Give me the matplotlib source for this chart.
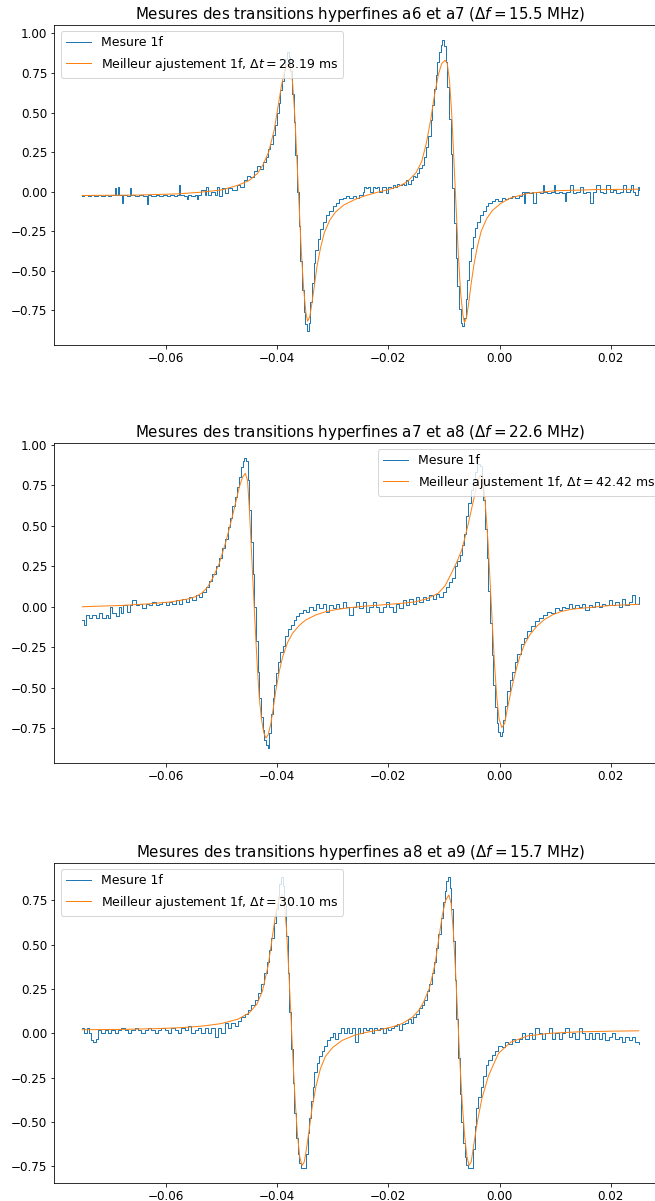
import numpy as np
import matplotlib.pyplot as plt
import matplotlib
matplotlib.rcParams.update({'font.size': 12})

# ---- a6 / a7 ----
mes1_t = [
    -0.0751, -0.0746, -0.0740, -0.0735, -0.0728, -0.0722, -0.0716, -0.0710, -0.0704, -0.0698,
    -0.0692, -0.0690, -0.0686, -0.0684, -0.0678, -0.0676, -0.0670, -0.0664, -0.0662, -0.0655,
    -0.0648, -0.0640, -0.0634, -0.0632, -0.0626, -0.0618, -0.0612, -0.0605, -0.0598, -0.0592,
    -0.0586, -0.0580, -0.0576, -0.0574, -0.0568, -0.0562, -0.0560, -0.0554, -0.0548, -0.0544,
    -0.0542, -0.0536, -0.0530, -0.0528, -0.0524, -0.0518, -0.0512, -0.0508, -0.0504, -0.0498,
    -0.0494, -0.0488, -0.0480, -0.0472, -0.0466, -0.0460, -0.0454, -0.0448, -0.0442, -0.0436,
    -0.0430, -0.0425, -0.0420, -0.0416, -0.0412, -0.0408, -0.0404, -0.0400, -0.0397, -0.0394,
    -0.0391, -0.0388, -0.0385, -0.0382, -0.0379, -0.0376, -0.0373, -0.0370, -0.0367, -0.0364,
    -0.0361, -0.0358, -0.0355, -0.0352, -0.0349, -0.0346, -0.0343, -0.0340, -0.0337, -0.0334,
    -0.0331, -0.0327, -0.0323, -0.0318, -0.0312, -0.0306, -0.0300, -0.0294, -0.0288, -0.0282,
    -0.0276, -0.0270, -0.0264, -0.0258, -0.0252, -0.0246, -0.0244, -0.0240, -0.0236, -0.0232,
    -0.0228, -0.0224, -0.0220, -0.0216, -0.0212, -0.0208, -0.0204, -0.0200, -0.0196, -0.0192,
    -0.0188, -0.0184, -0.0180, -0.0176, -0.0172, -0.0168, -0.0164, -0.0160, -0.0156, -0.0152,
    -0.0148, -0.0144, -0.0140, -0.0136, -0.0132, -0.0128, -0.0124, -0.0121, -0.0118, -0.0115,
    -0.0112, -0.0109, -0.0106, -0.0103, -0.0100, -0.0097, -0.0094, -0.0091, -0.0088, -0.0085,
    -0.0082, -0.0079, -0.0076, -0.0073, -0.0070, -0.0067, -0.0064, -0.0061, -0.0058, -0.0055,
    -0.0052, -0.0048, -0.0044, -0.0040, -0.0035, -0.0030, -0.0025, -0.0020, -0.0014, -0.0008,
    -0.0002, 0.0004, 0.0010, 0.0016, 0.0022, 0.0028, 0.0034, 0.0040, 0.0044, 0.0046,
    0.0052, 0.0058, 0.0060, 0.0066, 0.0072, 0.0078, 0.0080, 0.0086, 0.0092, 0.0098,
    0.0100, 0.0106, 0.0112, 0.0118, 0.0120, 0.0126, 0.0132, 0.0138, 0.0144, 0.0150,
    0.0156, 0.0162, 0.0168, 0.0174, 0.0180, 0.0186, 0.0192, 0.0198, 0.0204, 0.0210,
    0.0216, 0.0222, 0.0228, 0.0234, 0.0236, 0.0240, 0.0244, 0.0248, 0.0250,
]
mes1_y = [
    -0.030, -0.020, -0.030, -0.020, -0.030, -0.020, -0.030, -0.020, -0.030, -0.020,
    0.020, -0.020, 0.030, -0.020, -0.070, -0.020, -0.030, 0.020, -0.020, -0.030,
    -0.020, -0.030, -0.080, -0.020, -0.030, -0.020, -0.030, -0.020, -0.030, -0.020,
    -0.030, -0.020, 0.040, -0.020, -0.030, -0.050, -0.020, -0.030, -0.020, -0.050,
    -0.020, 0.010, -0.020, 0.030, -0.020, 0.000, -0.020, 0.030, -0.030, 0.020,
    -0.010, 0.020, 0.010, 0.040, 0.030, 0.070, 0.100, 0.090, 0.130, 0.160,
    0.140, 0.190, 0.220, 0.270, 0.300, 0.360, 0.420, 0.500, 0.560, 0.640,
    0.700, 0.770, 0.840, 0.880, 0.850, 0.760, 0.620, 0.440, 0.230, 0.000,
    -0.220, -0.440, -0.620, -0.760, -0.840, -0.880, -0.830, -0.700, -0.580, -0.450,
    -0.370, -0.300, -0.240, -0.190, -0.150, -0.120, -0.090, -0.070, -0.050, -0.040,
    -0.030, -0.040, -0.030, -0.040, -0.020, 0.000, 0.030, 0.020, 0.030, 0.000,
    0.030, 0.020, 0.030, 0.000, 0.030, 0.030, -0.010, 0.030, 0.020, 0.040,
    0.030, 0.050, 0.040, 0.050, 0.040, 0.070, 0.050, 0.070, 0.100, 0.090,
    0.120, 0.150, 0.170, 0.220, 0.280, 0.350, 0.450, 0.550, 0.650, 0.740,
    0.820, 0.880, 0.930, 0.960, 0.920, 0.820, 0.660, 0.460, 0.240, 0.020,
    -0.200, -0.420, -0.600, -0.740, -0.830, -0.850, -0.800, -0.680, -0.560, -0.440,
    -0.360, -0.290, -0.230, -0.190, -0.150, -0.120, -0.090, -0.070, -0.060, -0.050,
    -0.060, -0.040, -0.050, -0.040, -0.030, -0.040, -0.030, 0.000, -0.070, 0.000,
    -0.010, 0.000, -0.070, 0.000, -0.010, 0.040, 0.000, -0.010, 0.000, 0.040,
    -0.010, 0.000, -0.010, -0.060, 0.000, 0.040, -0.010, 0.000, 0.030, -0.010,
    0.000, -0.070, 0.000, 0.040, 0.000, -0.010, 0.040, 0.000, 0.010, -0.010,
    0.000, 0.040, 0.000, 0.010, 0.040, 0.000, -0.020, 0.030, 0.010,
]
fit1_t = [
    -0.0750, -0.0650, -0.0580, -0.0540, -0.0500, -0.0470, -0.0450, -0.0435, -0.0425, -0.0415,
    -0.0405, -0.0398, -0.0392, -0.0386, -0.0380, -0.0376, -0.0372, -0.0368, -0.0364, -0.0360,
    -0.0356, -0.0352, -0.0348, -0.0345, -0.0341, -0.0337, -0.0333, -0.0328, -0.0322, -0.0315,
    -0.0305, -0.0295, -0.0280, -0.0260, -0.0240, -0.0220, -0.0200, -0.0180, -0.0165, -0.0150,
    -0.0140, -0.0132, -0.0124, -0.0117, -0.0110, -0.0104, -0.0098, -0.0094, -0.0090, -0.0086,
    -0.0082, -0.0078, -0.0074, -0.0070, -0.0066, -0.0063, -0.0059, -0.0055, -0.0051, -0.0046,
    -0.0040, -0.0033, -0.0023, -0.0013, 0.0002, 0.0020, 0.0050, 0.0100, 0.0170, 0.0250,
]
fit1_y = [
    -0.025, -0.022, -0.015, -0.005, 0.010, 0.040, 0.070, 0.115, 0.170, 0.250,
    0.390, 0.540, 0.670, 0.770, 0.810, 0.790, 0.690, 0.480, 0.190, -0.110,
    -0.400, -0.620, -0.770, -0.820, -0.790, -0.700, -0.600, -0.470, -0.360, -0.260,
    -0.180, -0.130, -0.085, -0.050, -0.025, -0.005, 0.012, 0.035, 0.065, 0.120,
    0.190, 0.300, 0.450, 0.610, 0.740, 0.810, 0.830, 0.810, 0.700, 0.490,
    0.190, -0.110, -0.410, -0.640, -0.780, -0.830, -0.790, -0.690, -0.580, -0.460,
    -0.350, -0.250, -0.170, -0.120, -0.075, -0.040, -0.012, 0.005, 0.012, 0.015,
]

# ---- a7 / a8 ----
mes2_t = [
    -0.0750, -0.0747, -0.0744, -0.0738, -0.0732, -0.0726, -0.0720, -0.0714, -0.0708, -0.0704,
    -0.0700, -0.0696, -0.0690, -0.0684, -0.0680, -0.0676, -0.0670, -0.0664, -0.0660, -0.0654,
    -0.0648, -0.0642, -0.0636, -0.0630, -0.0624, -0.0618, -0.0612, -0.0606, -0.0600, -0.0594,
    -0.0588, -0.0582, -0.0576, -0.0570, -0.0564, -0.0558, -0.0552, -0.0546, -0.0540, -0.0534,
    -0.0528, -0.0522, -0.0516, -0.0510, -0.0504, -0.0498, -0.0493, -0.0488, -0.0484, -0.0480,
    -0.0476, -0.0472, -0.0468, -0.0465, -0.0462, -0.0459, -0.0456, -0.0453, -0.0450, -0.0447,
    -0.0444, -0.0441, -0.0438, -0.0435, -0.0432, -0.0429, -0.0426, -0.0423, -0.0420, -0.0417,
    -0.0414, -0.0411, -0.0408, -0.0405, -0.0402, -0.0398, -0.0394, -0.0390, -0.0385, -0.0380,
    -0.0375, -0.0370, -0.0365, -0.0360, -0.0354, -0.0348, -0.0342, -0.0336,
    -0.0330, -0.0324, -0.0318, -0.0312, -0.0306, -0.0300, -0.0294, -0.0288, -0.0282, -0.0276,
    -0.0270, -0.0264, -0.0258, -0.0252, -0.0246, -0.0240, -0.0234, -0.0228, -0.0222, -0.0216,
    -0.0210, -0.0204, -0.0198, -0.0192, -0.0186, -0.0180, -0.0174, -0.0168, -0.0162, -0.0156,
    -0.0150, -0.0144, -0.0138, -0.0132, -0.0126, -0.0120, -0.0114, -0.0108, -0.0102, -0.0096,
    -0.0091, -0.0086, -0.0081, -0.0076, -0.0072, -0.0068, -0.0064, -0.0060, -0.0056, -0.0052,
    -0.0048, -0.0044, -0.0040, -0.0036, -0.0032, -0.0029, -0.0026, -0.0023, -0.0020, -0.0017,
    -0.0014, -0.0011, -0.0008, -0.0005, -0.0002, 0.0001, 0.0004, 0.0007, 0.0010, 0.0014,
    0.0018, 0.0022, 0.0027, 0.0032, 0.0038, 0.0044, 0.0050, 0.0057, 0.0064, 0.0071,
    0.0078, 0.0085, 0.0092, 0.0100, 0.0106, 0.0112, 0.0118, 0.0124, 0.0130, 0.0136,
    0.0142, 0.0148, 0.0154, 0.0160, 0.0166, 0.0172, 0.0178, 0.0184, 0.0190, 0.0196,
    0.0202, 0.0208, 0.0214, 0.0220, 0.0226, 0.0232, 0.0238, 0.0244, 0.0250,
]
mes2_y = [
    -0.080, -0.110, -0.050, -0.070, -0.050, -0.070, -0.040, -0.070, -0.050, -0.070,
    0.000, -0.040, -0.060, 0.000, -0.040, 0.010, -0.030, 0.010, 0.040, 0.010,
    0.020, -0.010, 0.020, 0.010, 0.030, 0.010, 0.020, 0.030, 0.010, 0.030,
    0.020, 0.040, 0.020, 0.050, 0.030, 0.060, 0.040, 0.070, 0.060, 0.090,
    0.120, 0.160, 0.200, 0.250, 0.300, 0.360, 0.420, 0.490, 0.550, 0.620,
    0.680, 0.740, 0.800, 0.860, 0.900, 0.920, 0.900, 0.780, 0.600, 0.400,
    0.200, 0.000, -0.210, -0.400, -0.560, -0.680, -0.760, -0.820, -0.850, -0.870,
    -0.780, -0.660, -0.560, -0.480, -0.410, -0.340, -0.280, -0.240, -0.180, -0.140,
    -0.110, -0.080, -0.060, -0.040, -0.020, -0.030, 0.000, -0.020,
    0.020, -0.010, 0.020, -0.030, 0.010, -0.010, 0.020, -0.010, 0.030, 0.000,
    -0.050, 0.000, 0.030, -0.010, 0.030, -0.030, 0.000, 0.030, 0.000, -0.030,
    0.000, 0.030, 0.000, -0.030, 0.020, -0.010, 0.040, 0.010, 0.050, 0.020,
    0.060, 0.030, 0.060, 0.040, 0.070, 0.050, 0.080, 0.060, 0.090, 0.120,
    0.150, 0.180, 0.250, 0.280, 0.320, 0.380, 0.450, 0.560, 0.640, 0.720,
    0.780, 0.830, 0.880, 0.870, 0.790, 0.660, 0.480, 0.300, 0.100, -0.100,
    -0.300, -0.480, -0.620, -0.720, -0.770, -0.800, -0.770, -0.700, -0.610, -0.520,
    -0.450, -0.400, -0.340, -0.290, -0.230, -0.190, -0.150, -0.120, -0.090, -0.070,
    -0.050, -0.030, -0.040, -0.010, -0.020, 0.000, -0.010, 0.020, -0.010, 0.010,
    0.000, 0.020, -0.020, 0.010, 0.000, 0.030, 0.000, 0.020, 0.010, 0.040,
    0.010, 0.030, 0.000, 0.050, 0.010, 0.030, 0.070, 0.020, 0.060,
]
fit2_t = [
    -0.0750, -0.0680, -0.0630, -0.0590, -0.0560, -0.0545, -0.0535, -0.0525, -0.0515, -0.0504,
    -0.0492, -0.0480, -0.0468, -0.0462, -0.0457, -0.0453, -0.0450, -0.0447, -0.0444, -0.0441,
    -0.0438, -0.0435, -0.0432, -0.0428, -0.0424, -0.0420, -0.0416, -0.0411, -0.0406, -0.0402,
    -0.0396, -0.0390, -0.0381, -0.0372, -0.0360, -0.0349, -0.0330, -0.0313, -0.0290, -0.0265,
    -0.0241, -0.0210, -0.0180, -0.0152, -0.0130, -0.0110, -0.0098, -0.0086, -0.0077, -0.0068,
    -0.0062, -0.0056, -0.0050, -0.0044, -0.0039, -0.0034, -0.0030, -0.0026, -0.0021, -0.0017,
    -0.0013, -0.0009, -0.0005, -0.0001, 0.0004, 0.0009, 0.0014, 0.0020, 0.0028, 0.0036,
    0.0045, 0.0055, 0.0067, 0.0080, 0.0095, 0.0110, 0.0130, 0.0160, 0.0200, 0.0250,
]
fit2_y = [
    0.000, 0.008, 0.018, 0.030, 0.048, 0.064, 0.085, 0.120, 0.180, 0.265,
    0.400, 0.560, 0.735, 0.800, 0.823, 0.780, 0.620, 0.420, 0.210, 0.000,
    -0.206, -0.390, -0.556, -0.690, -0.775, -0.810, -0.790, -0.720, -0.610, -0.515,
    -0.400, -0.310, -0.220, -0.163, -0.115, -0.083, -0.050, -0.031, -0.015, -0.004,
    0.004, 0.012, 0.020, 0.030, 0.050, 0.084, 0.130, 0.210, 0.275, 0.350,
    0.430, 0.516, 0.610, 0.700, 0.780, 0.815, 0.790, 0.650, 0.410, 0.150,
    -0.110, -0.360, -0.560, -0.690, -0.745, -0.720, -0.630, -0.530, -0.410, -0.310,
    -0.230, -0.170, -0.120, -0.080, -0.050, -0.030, -0.015, -0.005, 0.008, 0.015,
]

# ---- a8 / a9 ----
mes3_t = [
    -0.0750, -0.0746, -0.0742, -0.0738, -0.0734, -0.0730, -0.0726, -0.0722, -0.0716, -0.0710,
    -0.0704, -0.0698, -0.0692, -0.0686, -0.0680, -0.0674, -0.0668, -0.0662, -0.0656, -0.0650,
    -0.0644, -0.0638, -0.0632, -0.0626, -0.0620, -0.0614, -0.0608, -0.0602, -0.0596, -0.0590,
    -0.0584, -0.0578, -0.0572, -0.0566, -0.0560, -0.0554, -0.0548, -0.0542, -0.0536, -0.0530,
    -0.0524, -0.0518, -0.0512, -0.0506, -0.0500, -0.0494, -0.0488, -0.0482, -0.0476, -0.0470,
    -0.0464, -0.0458, -0.0452, -0.0446, -0.0440, -0.0434, -0.0428, -0.0423, -0.0418, -0.0414,
    -0.0410, -0.0406, -0.0402, -0.0399, -0.0396, -0.0393, -0.0390, -0.0387, -0.0384, -0.0381,
    -0.0378, -0.0375, -0.0372, -0.0369, -0.0366, -0.0363, -0.0360, -0.0357, -0.0354, -0.0351,
    -0.0348, -0.0345, -0.0342, -0.0339, -0.0336, -0.0333, -0.0329, -0.0325, -0.0320, -0.0315,
    -0.0310, -0.0305, -0.0300, -0.0295, -0.0290, -0.0285, -0.0280, -0.0275, -0.0270, -0.0265,
    -0.0260, -0.0255, -0.0250, -0.0245, -0.0240, -0.0235, -0.0230, -0.0225, -0.0220, -0.0215,
    -0.0210, -0.0205, -0.0200, -0.0195, -0.0190, -0.0185, -0.0180, -0.0175, -0.0170, -0.0165,
    -0.0160, -0.0155, -0.0150, -0.0145, -0.0140, -0.0135, -0.0130, -0.0126, -0.0122, -0.0118,
    -0.0114, -0.0110, -0.0106, -0.0102, -0.0099, -0.0096, -0.0093, -0.0090, -0.0087, -0.0084,
    -0.0081, -0.0078, -0.0075, -0.0072, -0.0069, -0.0066, -0.0063, -0.0060, -0.0057, -0.0054,
    -0.0051, -0.0048, -0.0045, -0.0042, -0.0038, -0.0034, -0.0030, -0.0025, -0.0020, -0.0014,
    -0.0008, -0.0002, 0.0004, 0.0010, 0.0016, 0.0022, 0.0028, 0.0034, 0.0040, 0.0046,
    0.0052, 0.0058, 0.0064, 0.0070, 0.0076, 0.0082, 0.0088, 0.0094, 0.0100, 0.0106,
    0.0112, 0.0118, 0.0124, 0.0130, 0.0136, 0.0142, 0.0148, 0.0154, 0.0160, 0.0166,
    0.0172, 0.0178, 0.0184, 0.0190, 0.0196, 0.0202, 0.0208, 0.0214, 0.0220, 0.0226,
    0.0232, 0.0238, 0.0244, 0.0250,
]
mes3_y = [
    0.030, 0.000, 0.030, 0.000, -0.040, -0.050, -0.030, 0.020, 0.000, 0.020,
    0.000, 0.020, 0.000, 0.020, 0.030, 0.020, 0.000, 0.020, 0.030, 0.020,
    0.000, 0.020, 0.030, 0.020, 0.000, 0.020, 0.030, 0.020, 0.000, 0.030,
    0.020, 0.000, 0.030, 0.020, 0.040, 0.000, 0.020, 0.030, 0.000, 0.030,
    0.000, 0.030, -0.020, 0.030, 0.000, 0.060, 0.030, 0.060, 0.040, 0.070,
    0.090, 0.110, 0.130, 0.160, 0.190, 0.230, 0.280, 0.340, 0.400, 0.470,
    0.540, 0.620, 0.700, 0.770, 0.840, 0.880, 0.830, 0.730, 0.550, 0.340,
    0.120, -0.090, -0.280, -0.450, -0.590, -0.680, -0.730, -0.760, -0.760, -0.760,
    -0.680, -0.560, -0.480, -0.380, -0.300, -0.220, -0.170, -0.130, -0.100, -0.070,
    -0.040, -0.020, 0.000, -0.030, 0.000, 0.030, 0.000, 0.030, 0.000, 0.030,
    -0.050, 0.030, 0.000, 0.030, 0.020, 0.030, 0.000, 0.030, 0.020, 0.030,
    0.000, 0.030, 0.020, 0.030, 0.040, 0.050, 0.020, 0.050, 0.060, 0.080,
    0.060, 0.090, 0.110, 0.140, 0.160, 0.190, 0.240, 0.280, 0.340, 0.400,
    0.480, 0.560, 0.650, 0.740, 0.800, 0.860, 0.880, 0.820, 0.700, 0.520,
    0.300, 0.080, -0.140, -0.340, -0.500, -0.620, -0.700, -0.740, -0.760, -0.760,
    -0.760, -0.650, -0.520, -0.420, -0.360, -0.300, -0.240, -0.180, -0.150, -0.120,
    -0.100, -0.070, -0.080, -0.050, -0.060, -0.030, -0.050, -0.030, 0.000, -0.030,
    0.000, -0.030, 0.030, 0.000, -0.030, 0.000, 0.030, -0.030, 0.000, -0.030,
    0.000, 0.030, -0.020, 0.000, -0.030, 0.030, 0.000, -0.030, 0.000, -0.030,
    0.000, -0.030, 0.000, -0.040, -0.020, 0.000, -0.030, -0.020, -0.050, -0.020,
    -0.040, -0.020, -0.050, -0.060,
]
fit3_t = [
    -0.0750, -0.0680, -0.0620, -0.0570, -0.0530, -0.0500, -0.0470, -0.0450, -0.0436, -0.0426,
    -0.0416, -0.0409, -0.0403, -0.0397, -0.0391, -0.0387, -0.0383, -0.0379, -0.0375, -0.0371,
    -0.0367, -0.0363, -0.0359, -0.0355, -0.0351, -0.0347, -0.0342, -0.0337, -0.0330, -0.0322,
    -0.0313, -0.0300, -0.0283, -0.0260, -0.0240, -0.0215, -0.0193, -0.0175, -0.0157, -0.0145,
    -0.0136, -0.0126, -0.0116, -0.0109, -0.0103, -0.0097, -0.0091, -0.0087, -0.0083, -0.0079,
    -0.0075, -0.0071, -0.0067, -0.0063, -0.0059, -0.0055, -0.0051, -0.0046, -0.0040, -0.0032,
    -0.0020, -0.0002, 0.0020, 0.0050, 0.0090, 0.0140, 0.0200, 0.0250,
]
fit3_y = [
    0.020, 0.022, 0.026, 0.032, 0.042, 0.055, 0.080, 0.115, 0.165, 0.240,
    0.380, 0.530, 0.660, 0.750, 0.780, 0.740, 0.590, 0.360, 0.100, -0.170,
    -0.400, -0.580, -0.700, -0.745, -0.725, -0.650, -0.540, -0.420, -0.300, -0.200,
    -0.130, -0.080, -0.040, -0.010, 0.005, 0.020, 0.036, 0.055, 0.090, 0.130,
    0.180, 0.255, 0.390, 0.540, 0.665, 0.750, 0.780, 0.730, 0.570, 0.340,
    0.080, -0.180, -0.400, -0.570, -0.690, -0.745, -0.725, -0.620, -0.500, -0.370,
    -0.240, -0.113, -0.050, -0.015, 0.000, 0.008, 0.012, 0.014,
]

titles = [
    r'Mesures des transitions hyperfines a6 et a7 ($\Delta f = 15.5$ MHz)',
    r'Mesures des transitions hyperfines a7 et a8 ($\Delta f = 22.6$ MHz)',
    r'Mesures des transitions hyperfines a8 et a9 ($\Delta f = 15.7$ MHz)',
]
dts = ['28.19', '42.42', '30.10']
ylims = [(-0.971, 1.053), (-0.964, 1.010), (-0.844, 0.960)]
locs = ['upper left', 'upper right', 'upper left']
bottoms = [0.7127, 0.3647, 0.0150]

mes = [(mes1_t, mes1_y), (mes2_t, mes2_y), (mes3_t, mes3_y)]
fits = [(fit1_t, fit1_y), (fit2_t, fit2_y), (fit3_t, fit3_y)]

fig = plt.figure(figsize=(655 / 72, 1201 / 72), dpi=72)
for i in range(3):
    ax = fig.add_axes([0.0831, bottoms[i], 0.9345, 0.2664])
    ax.plot(*mes[i], drawstyle='steps-post', lw=1.0, label='Mesure 1f')
    ax.plot(*fits[i], lw=1.0,
            label=r'Meilleur ajustement 1f, $\Delta t = %s$ ms' % dts[i])
    ax.set_xlim(-0.08, 0.03)
    ax.set_ylim(ylims[i])
    ax.set_xticks([-0.06, -0.04, -0.02, 0.00, 0.02])
    ax.set_title(titles[i], fontsize=15)
    ax.legend(loc=locs[i], fontsize=12.5)

fig.savefig('out.png', dpi=72)
